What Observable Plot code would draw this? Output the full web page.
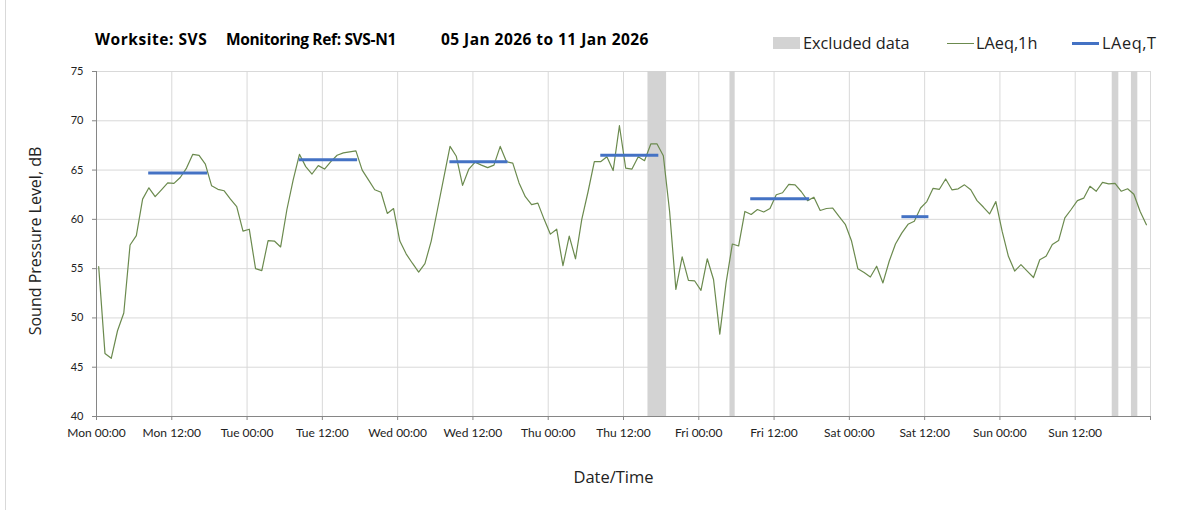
<!DOCTYPE html>
<html><head><meta charset="utf-8">
<script src="https://cdn.jsdelivr.net/npm/d3@7"></script>
<script src="https://cdn.jsdelivr.net/npm/@observablehq/plot@0.6"></script>
<style>
body{margin:0;background:#fff;font-family:Lato,"Open Sans",sans-serif;}
#page{position:relative;width:1203px;height:513px;overflow:hidden;background:#fff}
.tt{position:absolute;top:29px;font-family:"Open Sans",sans-serif;font-weight:bold;font-size:15.5px;white-space:pre;color:#000;line-height:20px}
.lg{position:absolute;font-family:"Open Sans",sans-serif;font-size:16.3px;line-height:20px;color:#222;white-space:pre}
.sw{position:absolute}
#chart{position:absolute;left:0;top:60px}
#frameL{position:absolute;left:5px;top:0;width:1px;height:510px;background:#d9d9d9}
</style></head>
<body><div id="page">
<div id="frameL"></div>
<div class="tt" style="left:95px;letter-spacing:0.55px">Worksite: SVS</div>
<div class="tt" style="left:226px;letter-spacing:-0.35px">Monitoring Ref: SVS-N1</div>
<div class="tt" style="left:441px;letter-spacing:0.45px">05 Jan 2026 to 11 Jan 2026</div>
<div class="sw" style="left:773px;top:37px;width:27px;height:12px;background:#d3d3d3"></div>
<div class="lg" style="left:803px;top:33px">Excluded data</div>
<div class="sw" style="left:947px;top:43px;width:27px;height:1.3px;background:#6b8a4e"></div>
<div class="lg" style="left:976px;top:33px">LAeq,1h</div>
<div class="sw" style="left:1072px;top:42px;width:27px;height:3px;background:#4472c4"></div>
<div class="lg" style="left:1102px;top:33px;letter-spacing:0.6px">LAeq,T</div>
<div id="chart"></div>
</div>
<script>
// LAeq,1h hourly values (dB), one array per day, hours 00..23
const mon = [55.2,46.4,45.9,48.7,50.5,57.4,58.35,62.05,63.2,62.3,63.0,63.7,63.65,64.25,65.2,66.6,66.5,65.6,63.4,63.05,62.9,62.05,61.3,58.8];
const tue = [59.0,55.0,54.8,57.85,57.8,57.2,61.0,64.0,66.6,65.35,64.6,65.45,65.1,65.85,66.5,66.75,66.85,66.95,65.0,64.0,63.0,62.75,60.6,61.1];
const wed = [57.8,56.5,55.55,54.65,55.5,57.8,61.0,64.2,67.4,66.4,63.45,65.1,65.8,65.5,65.25,65.5,67.4,65.85,65.7,63.7,62.3,61.5,61.65,60.0];
const thu = [58.5,59.0,55.3,58.3,56.0,60.0,62.8,65.85,65.85,66.35,64.95,69.5,65.2,65.1,66.35,65.95,67.65,67.65,66.45,60.8,52.9,56.2,53.8,53.75];
const fri = [52.8,56.0,53.9,48.35,53.55,57.5,57.3,60.8,60.5,61.0,60.75,61.1,62.5,62.7,63.55,63.5,62.8,61.9,62.25,60.9,61.1,61.15,60.3,59.5];
const sat = [57.8,55.0,54.6,54.15,55.25,53.55,55.75,57.5,58.6,59.5,59.8,61.15,61.8,63.15,63.05,64.1,63.0,63.1,63.5,63.0,61.9,61.25,60.55,61.8];
const sun = [58.8,56.25,54.75,55.4,54.75,54.1,55.9,56.25,57.45,57.85,60.15,61.0,61.9,62.15,63.35,62.85,63.75,63.6,63.65,62.85,63.1,62.55,60.8,59.45];
const sampleOffsetHours = 0.35; // time stamp offset of each hourly sample within the hour

// LAeq,T periods (hours since Mon 00:00)
const periodStart = [8.24, 32.24, 56.25, 80.3, 104.2, 128.3];
const periodEnd   = [17.64, 41.54, 65.5, 89.55, 113.6, 132.6];
const periodLevel = [64.7, 66.05, 65.85, 66.5, 62.1, 60.27];

// Excluded data intervals (hours since Mon 00:00)
const exclStart = [87.9, 100.97, 161.9, 164.96];
const exclEnd   = [90.87, 101.8, 162.95, 165.98];

// Axis ticks
const xTicks = [0,12,24,36,48,60,72,84,96,108,120,132,144,156,168];
const xTickLabels = ["Mon 00:00","Mon 12:00","Tue 00:00","Tue 12:00","Wed 00:00","Wed 12:00","Thu 00:00","Thu 12:00","Fri 00:00","Fri 12:00","Sat 00:00","Sat 12:00","Sun 00:00","Sun 12:00",""];
const yTicks = [40,45,50,55,60,65,70,75];

const hourly = [mon,tue,wed,thu,fri,sat,sun].flat().map((v,i)=>({t:i+sampleOffsetHours, v}));
const periods = periodStart.map((s,i)=>({s, e:periodEnd[i], v:periodLevel[i]}));
const excluded = exclStart.map((s,i)=>({s, e:exclEnd[i]}));
const labelOf = new Map(xTicks.map((t,i)=>[t, xTickLabels[i]]));

const font = 'Lato, "Open Sans", sans-serif';
const chart = Plot.plot({
  width: 1203, height: 440,
  marginLeft: 96, marginRight: 53, marginTop: 11, marginBottom: 84,
  x: {domain: [0,168]},
  y: {domain: [40,75]},
  style: {fontFamily: font, fontSize: "12px", color: "#222", background: "transparent"},
  marks: [
    Plot.gridY(yTicks, {stroke: "#d9d9d9", strokeOpacity: 1}),
    Plot.gridX(xTicks, {stroke: "#d9d9d9", strokeOpacity: 1}),
    Plot.rect(excluded, {x1: "s", x2: "e", y1: 40, y2: 75, fill: "#d3d3d3"}),
    Plot.line(hourly, {x: "t", y: "v", stroke: "#6b8a4e", strokeWidth: 1.2}),
    Plot.link(periods, {x1: "s", x2: "e", y1: "v", y2: "v", stroke: "#4472c4", strokeWidth: 3, strokeLinecap: "butt"}),
    Plot.ruleY([40], {stroke: "#868686"}),
    Plot.ruleX([0], {stroke: "#868686"}),
    Plot.axisX(xTicks, {tickFormat: d => labelOf.get(d), tickSize: 4, tickPadding: 8, stroke: "#868686", fontSize: 12, label: null}),
    Plot.axisY(yTicks, {tickSize: 4, tickPadding: 9, stroke: "#868686", fontSize: 11, label: null}),
    Plot.text(["Sound Pressure Level, dB"], {frameAnchor: "left", dx: -61, dy: -3, rotate: -90, textAnchor: "middle", lineAnchor: "middle", fontFamily: '"Open Sans", sans-serif', fontSize: 16, fill: "#222"}),
    Plot.text(["Date/Time"], {frameAnchor: "bottom", dx: -10, dy: 61, textAnchor: "middle", lineAnchor: "middle", fontFamily: '"Open Sans", sans-serif', fontSize: 16.5, fill: "#222"})
  ]
});
document.getElementById("chart").appendChild(chart);
</script>
</body></html>
